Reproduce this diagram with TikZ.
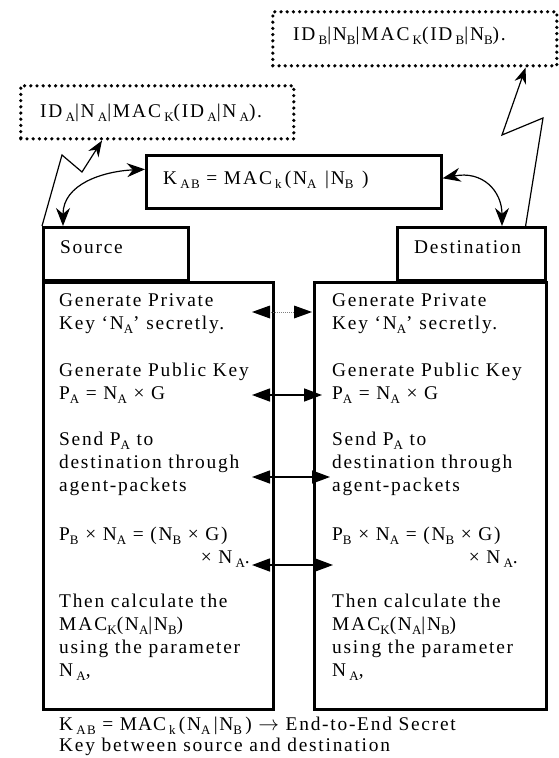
\documentclass[tikz,border=0pt]{standalone}
\usepackage{fontspec}
\setmainfont{Liberation Serif}[LetterSpace=9]
\usetikzlibrary{arrows.meta}
\newcommand{\sbs}[1]{\raisebox{-0.22em}{\fontsize{13}{13}\selectfont #1}}
\newcommand{\mac}{M\kern2pt A\kern2pt C}

\begin{document}
\begin{tikzpicture}[x=1pt,y=-1pt,
    txt/.style={anchor=base west,inner sep=0pt,font=\fontsize{19.4}{23}\selectfont},
    box/.style={draw,line width=2.6pt,anchor=north west,inner sep=0pt},
    dotbox/.style={draw,line width=3.6pt,dash pattern=on 0pt off 6.2pt,line cap=round,anchor=north west,inner sep=0pt},
    twoway/.style={{Triangle[length=18pt,width=13pt]}-{Triangle[length=18pt,width=13pt]},line width=1.4pt},
    curvy/.style={{Stealth[length=18pt,width=14pt]}-{Stealth[length=18pt,width=14pt]},line width=1.2pt},
    zap/.style={-{Stealth[length=16pt,width=12pt]},line width=1.2pt}]
    \useasboundingbox (0,0) rectangle (558,758);

    \node[dotbox,minimum width=284pt,minimum height=54pt](idb)at(271,10){};
    \node[txt](idbt)at(293,40){ID\,\sbs{B}|N\sbs{B}|\mac\,\sbs{K}(ID\,\sbs{B}|N\sbs{B}).};
    \node[dotbox,minimum width=273pt,minimum height=53pt](ida)at(19,84){};
    \node[txt](idat)at(40,117){ID\,\sbs{A}|N\,\sbs{A}|\mac\,\sbs{K}(ID\,\sbs{A}|N\,\sbs{A}).};

    \node[box,minimum width=295pt,minimum height=53pt](kab)at(145,154){};
    \node[txt](kabt)at(163,184){K\,\sbs{AB} = \mac\,\sbs{k}\,(N\sbs{A}\;\,|N\sbs{B}\;\,)};

    \node[box,minimum width=145pt,minimum height=53pt](src)at(42,226){};
    \node[txt](srct)at(60,253){Source};
    \node[box,minimum width=148pt,minimum height=53pt](dst)at(396,226){};
    \node[txt](dstt)at(414,253){Destination};

    \node[box,minimum width=230pt,minimum height=427pt](left)at(42,281){};
    \node[box,minimum width=232pt,minimum height=427pt](right)at(313,281){};

    \foreach \y/\t in {306/Generate Private,329/{Key `N\sbs{A}' secretly.},
        376/Generate Public Key,399/{P\sbs{A} = N\sbs{A} × G},
        445/{Send P\sbs{A} to},468/destination through,491/agent-packets,
        540/{P\sbs{B} × N\sbs{A} = (N\sbs{B} × G)},
        607/Then calculate the,630/{\mac\sbs{K}(N\sbs{A}|N\sbs{B})},
        653/using the parameter,676/{N\,\sbs{A},}}{
        \node[txt](l\y)at(59,\y){\t};
        \node[txt](r\y)at(332,\y){\t};
    }
    \node[txt,anchor=base east](l563)at(250,563){× N\,\sbs{A}.};
    \node[txt,anchor=base east](r563)at(518,563){× N\,\sbs{A}.};

    \node[txt](note1)at(59,730){K\,\sbs{AB} = M\kern1pt A\kern1pt C\,\sbs{k}\,(N\sbs{A}\,|N\sbs{B}\,) $\rightarrow$ End-to-End Secret};
    \node[txt](note2)at(59,751){Key between source and destination};

    \coordinate(a1)at(252,312); \coordinate(b1)at(312,312);
    \coordinate(a2)at(252,395); \coordinate(b2)at(322,395);
    \coordinate(a3)at(252,477); \coordinate(b3)at(330,477);
    \coordinate(a4)at(252,565); \coordinate(b4)at(333,565);
    \draw[line width=1pt,gray,dash pattern=on 1pt off 1pt]([xshift=17pt]a1)--([xshift=-17pt]b1);
    \fill(a1)--++(18,-6.5)--++(0,13)--cycle;
    \fill(b1)--++(-18,-6.5)--++(0,13)--cycle;
    \draw[twoway](a2)--(b2);
    \draw[twoway](a3)--(b3);
    \draw[twoway](a4)--(b4);

    \draw[curvy]([xshift=21pt]src.north west)..controls +(0,-42) and +(-42,2)..([yshift=12.5pt]kab.west);
    \draw[curvy]([yshift=3.5pt]kab.east)..controls +(40,-8) and +(0,-35)..([xshift=106pt]dst.north west);

    \draw[zap](src.north west)--(62,155)--(82,172)--([xshift=83pt]ida.south west);
    \draw[zap]([xshift=-21pt]dst.north east)--(543,118)--(502,135)--([xshift=-33pt]idb.south east);
\end{tikzpicture}
\end{document}
